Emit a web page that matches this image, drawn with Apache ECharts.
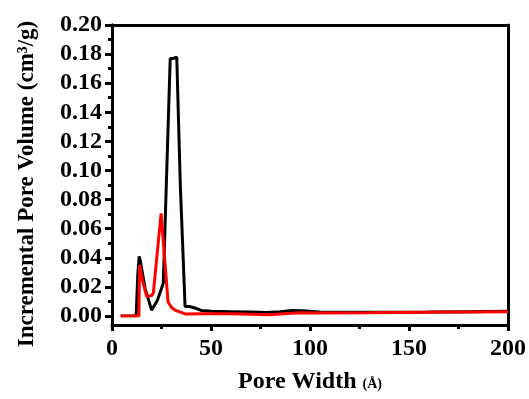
<!DOCTYPE html>
<html>
<head>
<meta charset="utf-8">
<script src="https://cdn.jsdelivr.net/npm/echarts@6/dist/echarts.min.js"></script>
<style>
html,body{margin:0;padding:0;background:#fff;}
#chart{width:529px;height:399px;}
</style>
</head>
<body>
<div id="chart"></div>
<script>
// Pore width (Å) and incremental pore volume (cm3/g)
var blackX = [4.4, 12.2, 13.0, 13.7, 14.3, 16.7, 20.0, 23.0, 25.9, 29.4, 31.0, 32.7, 34.5, 36.9, 39.0, 42.0, 45.0, 50, 60, 70, 78, 85, 91, 96, 105, 120, 140, 160, 180, 200];
var blackY = [0.0, 0.0, 0.028, 0.041, 0.038, 0.019, 0.004, 0.011, 0.0225, 0.177, 0.177, 0.178, 0.09, 0.0065, 0.0065, 0.0055, 0.0038, 0.0033, 0.003, 0.0027, 0.0024, 0.003, 0.0038, 0.0036, 0.0027, 0.0025, 0.0026, 0.0027, 0.003, 0.0032];
var redX = [4.4, 13.6, 13.9, 15.5, 17.5, 20.0, 20.9, 24.8, 25.6, 28.3, 30.0, 31.8, 36.9, 45, 60, 70, 80, 87, 95, 105, 130, 160, 200];
var redY = [0.0, 0.0, 0.035, 0.024, 0.0135, 0.014, 0.016, 0.0706, 0.07, 0.0098, 0.006, 0.0041, 0.0014, 0.0016, 0.0015, 0.0012, 0.0008, 0.0015, 0.0022, 0.0021, 0.0022, 0.0025, 0.003];
var xTicks = [0, 50, 100, 150, 200];
var yTicks = [0.00, 0.02, 0.04, 0.06, 0.08, 0.10, 0.12, 0.14, 0.16, 0.18, 0.20];

function pairs(xs, ys){ return xs.map(function(x,i){ return [x, ys[i]]; }); }

var font = 'Liberation Serif, Times New Roman, serif';
var chart = echarts.init(document.getElementById('chart'));
var lineSt = {color:'#000', width:3};
chart.setOption({
  animation:false,
  backgroundColor:'#fff',
  grid:[
    {left:112, top:25, width:396, height:306},
    {left:112, top:25, width:396, height:291}
  ],
  xAxis:[
    {gridIndex:0, type:'value', min:xTicks[0], max:xTicks[xTicks.length-1], interval:50,
     axisLine:{show:true, onZero:false, lineStyle:lineSt},
     axisTick:{show:true, length:6, lineStyle:{width:3,color:'#000'}},
     minorTick:{show:true, splitNumber:2, length:4, lineStyle:{width:3,color:'#000'}},
     splitLine:{show:false},
     axisLabel:{color:'#000', fontFamily:font, fontWeight:'bold', fontSize:24, margin:12},
     name:'Pore Width {s|(Å)}', nameLocation:'middle', nameGap:45,
     nameTextStyle:{color:'#000', fontFamily:font, fontWeight:'bold', fontSize:24,
       rich:{s:{fontFamily:font, fontWeight:'bold', fontSize:14, color:'#000', padding:[4,0,0,0]}}}
    },
    {gridIndex:0, type:'value', position:'top', min:0, max:200,
     axisLine:{show:true, onZero:false, lineStyle:lineSt}, axisTick:{show:false}, axisLabel:{show:false}, splitLine:{show:false}},
    {gridIndex:1, type:'value', min:0, max:200, show:false, splitLine:{show:false}}
  ],
  yAxis:[
    {gridIndex:0, type:'value', min:-0.01, max:0.2,
     axisLine:{show:true, onZero:false, lineStyle:lineSt}, axisTick:{show:false}, axisLabel:{show:false}, splitLine:{show:false},
     name:'Incremental Pore Volume (cm³/g)', nameLocation:'middle', nameGap:73, nameRotate:90,
     nameTextStyle:{color:'#000', fontFamily:font, fontWeight:'bold', fontSize:23, padding:[0,18,0,0]}
    },
    {gridIndex:0, type:'value', position:'right', min:-0.01, max:0.2,
     axisLine:{show:true, onZero:false, lineStyle:lineSt}, axisTick:{show:false}, axisLabel:{show:false}, splitLine:{show:false}},
    {gridIndex:1, type:'value', min:yTicks[0], max:yTicks[yTicks.length-1], interval:0.02,
     axisLine:{show:true, onZero:false, lineStyle:lineSt},
     axisTick:{show:true, length:7, lineStyle:{width:3,color:'#000'}},
     minorTick:{show:true, splitNumber:2, length:4, lineStyle:{width:3,color:'#000'}},
     splitLine:{show:false},
     axisLabel:{color:'#000', fontFamily:font, fontWeight:'bold', fontSize:24, margin:10,
       formatter:function(v){ return v.toFixed(2); }}
    }
  ],
  series:[
    {type:'line', xAxisIndex:2, yAxisIndex:2, data:pairs(blackX, blackY), showSymbol:false, symbol:'none',
     lineStyle:{color:'#000', width:3}, itemStyle:{color:'#000'}},
    {type:'line', xAxisIndex:2, yAxisIndex:2, data:pairs(redX, redY), showSymbol:false, symbol:'none',
     lineStyle:{color:'#ff0000', width:3}, itemStyle:{color:'#ff0000'}}
  ]
});
</script>
</body>
</html>
